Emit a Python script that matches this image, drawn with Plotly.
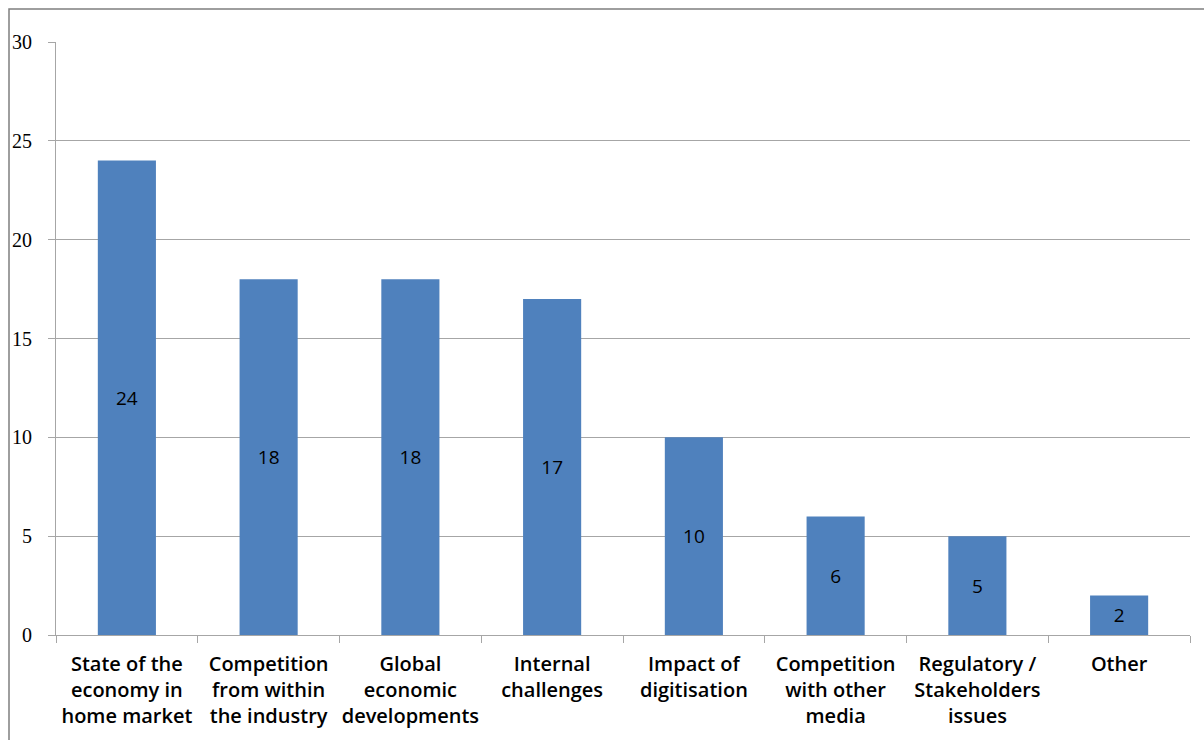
import plotly.graph_objects as go

categories = [
    "State of the<br>economy in<br>home market",
    "Competition<br>from within<br>the industry",
    "Global<br>economic<br>developments",
    "Internal<br>challenges",
    "Impact of<br>digitisation",
    "Competition<br>with other<br>media",
    "Regulatory /<br>Stakeholders<br>issues",
    "Other",
]
values = [24, 18, 18, 17, 10, 6, 5, 2]
y_ticks = [0, 5, 10, 15, 20, 25, 30]

W, H = 1204, 740
ml, mr, mt, mb = 56, 14, 42, 105
pw, ph = W - ml - mr, H - mt - mb

fig = go.Figure(go.Bar(
    x=categories, y=values,
    marker=dict(color="#4F81BD", line=dict(width=0)),
    text=[str(v) for v in values],
    textposition="inside", insidetextanchor="middle",
    textfont=dict(family="Open Sans, sans-serif", size=19, color="black", weight=500),
    width=0.41,
))

grid = "#A6A6A6"
fig.update_layout(
    width=W, height=H,
    margin=dict(l=ml, r=mr, t=mt, b=mb),
    paper_bgcolor="white", plot_bgcolor="white",
    showlegend=False,
    xaxis=dict(
        type="category", showline=True, linecolor=grid, linewidth=1,
        ticks="outside", tickson="boundaries", ticklen=7, tickcolor=grid,
        tickfont=dict(family="Open Sans, sans-serif", size=20, color="black", weight=600),
        ticklabelstandoff=11, tickangle=0, automargin=False,
        showgrid=False, range=[-0.5, 7.5],
    ),
    yaxis=dict(
        range=[0, 30], tickvals=y_ticks, showline=True, linecolor=grid, linewidth=1,
        ticks="outside", ticklen=7, tickcolor=grid,
        showgrid=True, gridcolor=grid, gridwidth=1, zeroline=False,
        tickfont=dict(family="Liberation Serif, serif", size=20, color="black"),
        ticklabelstandoff=12, automargin=False,
    ),
    uniformtext=dict(minsize=10),
)

# outer frame of the chart
x0 = (9 - ml) / pw
y0 = 1 + (mt - 9) / ph
fig.add_shape(type="rect", xref="paper", yref="paper",
              x0=x0, y0=-0.5, x1=1.5, y1=y0,
              line=dict(color="#7F7F7F", width=1.5), layer="below")

fig.write_html("out.html")
